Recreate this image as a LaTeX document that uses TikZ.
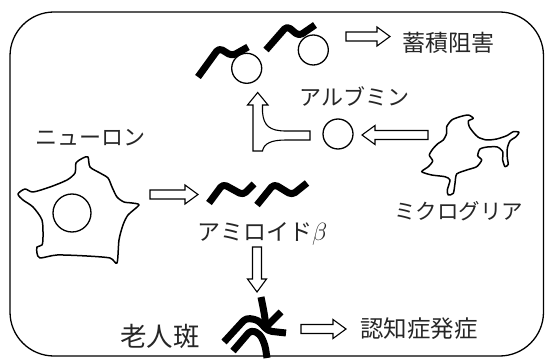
\documentclass[tikz,border=0pt]{standalone}
\usepackage{fontspec}
\newfontfamily\jpfont{Noto Sans CJK JP}
\usetikzlibrary{calc}

% hollow block arrow drawn from one named coordinate to another
\newcommand\hollowarrow[2]{%
  \pgfpointdiff{\pgfpointanchor{#1}{center}}{\pgfpointanchor{#2}{center}}%
  \pgfgetlastxy\hadx\hady
  \pgfmathsetmacro\haangle{atan2(\hady,\hadx)}%
  \pgfmathsetmacro\halength{veclen(\hadx,\hady)}%
  \draw[blockarrow, shift={(#1)}, rotate=\haangle]
    (0pt,-4.5pt) -- ({\halength pt-13pt},-4.5pt) -- ({\halength pt-13pt},-9.5pt)
    -- ({\halength pt},0pt) -- ({\halength pt-13pt},9.5pt) -- ({\halength pt-13pt},4.5pt)
    -- (0pt,4.5pt) -- cycle;}

\begin{document}
\begin{tikzpicture}[x=1pt,y=-1pt,
  outline/.style={line width=1.5pt, line join=round},
  ring/.style={circle, draw, line width=1.3pt, fill=white, inner sep=0pt},
  strand/.style={line width=7pt, rounded corners=4pt, line join=round},
  blockarrow/.style={draw, line width=1.1pt, fill=white, line join=miter},
  lbl/.style={font=\jpfont\fontsize{22}{24}\selectfont, inner sep=0pt, text=black!85}]

\useasboundingbox (0,0) rectangle (545,358);

% outer frame
\draw[line width=1.3pt, rounded corners=44pt] (10,12) rectangle (543.5,356);

% ---------- neuron ----------
\draw[outline] plot[smooth cycle, tension=0.45] coordinates {
  (18,194) (25,189) (33,192) (50,187) (67,180) (75,173) (76,163) (83,158)
  (88,157) (90,167) (100,173) (108,178) (112,187) (117,197) (124,202)
  (132,203) (139,205) (128,215) (123,225) (119,240) (117,263) (110,258)
  (87,256) (57,255) (40,258) (37,253) (37,247) (42,245) (43,237) (42,220)
  (33,207) (23,200)};
\node[ring, minimum size=38pt] (nucleus) at (72,213) {};
\node[lbl] (neuronlbl) at (90.5,137.5) {ニューロン};

% ---------- amyloid beta ----------
\draw[strand] (209,203) -- (223,184) -- (243,195) -- (254,184);
\draw[strand] (257,205) -- (274,184) -- (292,195) -- (307,183);
\node[lbl, font=\jpfont\fontsize{23}{24}\selectfont] (ablbl) at (262.5,234) {アミロイド$\beta$};

% ---------- microglia ----------
\draw[outline] plot[smooth cycle, tension=0.4] coordinates {
  (446.7,126.7) (451.7,120) (460,116.7) (468.3,115) (473.3,118.3) (468.3,121)
  (469.3,126.7) (473.3,132.3) (478.3,137.3) (486.7,140) (496.7,139)
  (506.7,135.7) (513.3,131.7) (519,132.3) (516,136.7) (510,141) (507.3,148.3)
  (507.3,158.3) (508.3,164.3) (505,166.7) (502.7,160) (502.7,151.7)
  (497.3,147) (487.3,147) (480,149) (477.7,155.7) (481.7,160) (476.7,166.7)
  (466.7,170) (456.7,174) (455,183.3) (453.3,193.3) (448.3,195) (447.3,190)
  (450,180) (445,176.7) (431.7,175) (421.7,171.7) (428.3,166.7) (432.7,161)
  (429.3,155) (433.3,148.3) (438.3,143.3) (443.3,140) (446.7,133.3)};
\node[lbl, font=\jpfont\fontsize{21.5}{24}\selectfont] (mglbl) at (458.5,211.5) {ミクログリア};

% ---------- albumin ----------
\node[ring, minimum size=30pt] (albumin) at (338,134) {};
\node[lbl] (alblbl) at (354.5,96) {アルブミン};

% ---------- amyloid beta bound to albumin ----------
\draw[strand] (198,77) -- (219,48) -- (232,56) -- (248,47);
\node[ring, minimum size=30pt] (cx1) at (246.7,68.3) {};
\draw[strand] (266,50) -- (287,26) -- (299,36) -- (315,25);
\node[ring, minimum size=30pt] (cx2) at (313.3,50) {};
\node[lbl, font=\jpfont\fontsize{23}{24}\selectfont] (acclbl) at (448.5,43) {蓄積阻害};

% ---------- senile plaque ----------
\draw[strand] (261,297) -- (264,312) -- (266,326);
\draw[strand] (281,312) -- (266,327);
\draw[strand] (224,342) -- (246,318) -- (258,320) -- (268,331) -- (286,333);
\draw[strand] (233,351) -- (251,330) -- (260,334) -- (265,345) -- (267,358);
\node[lbl, font=\jpfont\fontsize{26.5}{28}\selectfont] (plaquelbl) at (160,336) {老人斑};
\node[lbl, font=\jpfont\fontsize{23.5}{24}\selectfont] (demlbl) at (419,329) {認知症発症};

% ---------- block arrows ----------
\coordinate (n2a-s) at (150,194.5);   \coordinate (n2a-e) at (198,194.5);
\coordinate (a2p-s) at (257,247);     \coordinate (a2p-e) at (257,292);
\coordinate (p2d-s) at (301,329);     \coordinate (p2d-e) at (346,329);
\coordinate (m2a-s) at (428,135);     \coordinate (m2a-e) at (362,135);
\coordinate (c2a-s) at (346,36.5);    \coordinate (c2a-e) at (390,36.5);
\hollowarrow{n2a-s}{n2a-e}
\hollowarrow{a2p-s}{a2p-e}
\hollowarrow{p2d-s}{p2d-e}
\hollowarrow{m2a-s}{m2a-e}
\hollowarrow{c2a-s}{c2a-e}

% merging arrow: albumin joins amyloid beta on the way up
\draw[blockarrow] (253,151) -- (253,105) -- (247.5,105) -- (257.7,92.5)
  -- (268,105) -- (262.5,105) -- (262.5,112)
  .. controls (263.5,126) and (270,131) .. (286,131) -- (310,131) -- (310,140)
  -- (286,140) .. controls (272,140) and (264,143) .. (262.5,151) -- cycle;

\end{tikzpicture}
\end{document}
